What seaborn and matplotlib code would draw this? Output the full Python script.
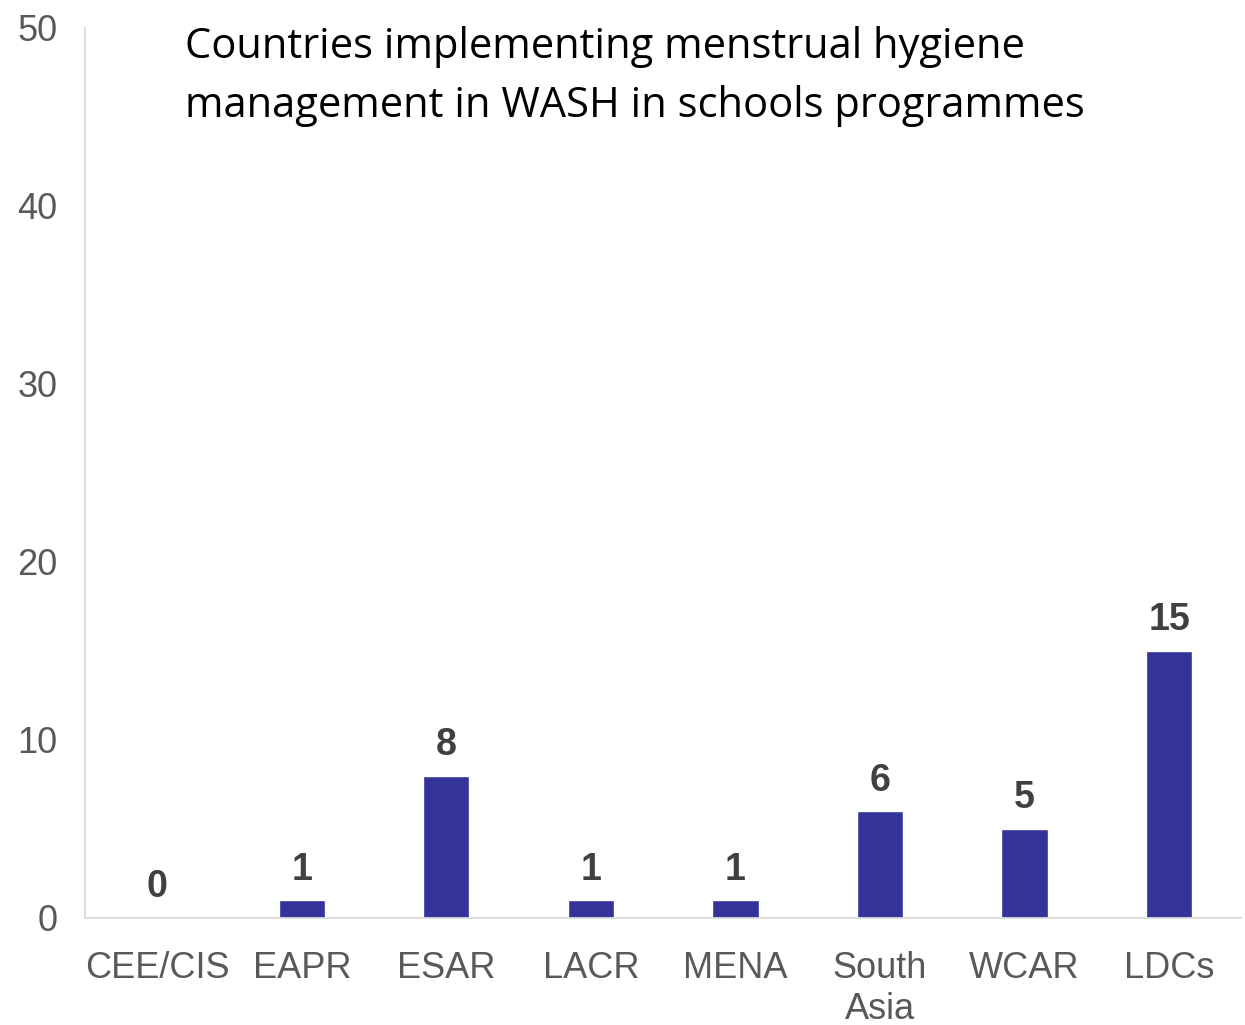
import matplotlib
matplotlib.use("Agg")
import matplotlib.pyplot as plt
import seaborn as sns
import pandas as pd

regions = ["CEE/CIS", "EAPR", "ESAR", "LACR", "MENA", "South\nAsia", "WCAR", "LDCs"]
countries = [0, 1, 8, 1, 1, 6, 5, 15]
y_ticks = [0, 10, 20, 30, 40, 50]
title = "Countries implementing menstrual hygiene\nmanagement in WASH in schools programmes"

sns.set_theme(style="white")
plt.rcParams["font.family"] = ["Liberation Sans Narrow", "Liberation Sans", "DejaVu Sans"]

df = pd.DataFrame({"region": regions, "countries": countries})

fig = plt.figure(figsize=(12.45, 10.25), dpi=100)
ax = fig.add_axes([0.0683, 0.1044, 0.9287, 0.8683])

sns.barplot(data=df, x="region", y="countries", color="#333399", width=0.32,
            saturation=1, ax=ax)

ax.set_xlim(-0.5, len(regions) - 0.5)
ax.set_ylim(0, 50)
ax.set_yticks(y_ticks)
ax.set_xlabel("")
ax.set_ylabel("")

for s in ["top", "right"]:
    ax.spines[s].set_visible(False)
for s in ["left", "bottom"]:
    ax.spines[s].set_color("#d9d9d9")
    ax.spines[s].set_linewidth(1.3)

ax.tick_params(axis="both", length=0, colors="#595959", labelsize=26)
ax.tick_params(axis="x", pad=24)
ax.tick_params(axis="y", pad=20)
for lbl in ax.get_xticklabels():
    lbl.set_linespacing(1.2)

for i, v in enumerate(countries):
    ax.annotate(str(v), xy=(i, v), xytext=(0, 9), textcoords="offset points",
                ha="center", va="bottom", fontsize=27, fontweight="bold",
                color="#404040", family=["Liberation Sans", "DejaVu Sans"])

fig.text(185 / 1245, 1 - 26 / 1025, title, ha="left", va="top", fontsize=30,
         color="black", family=["Open Sans", "DejaVu Sans"], linespacing=1.52)

fig.savefig("out.png", dpi=100, facecolor="white")
